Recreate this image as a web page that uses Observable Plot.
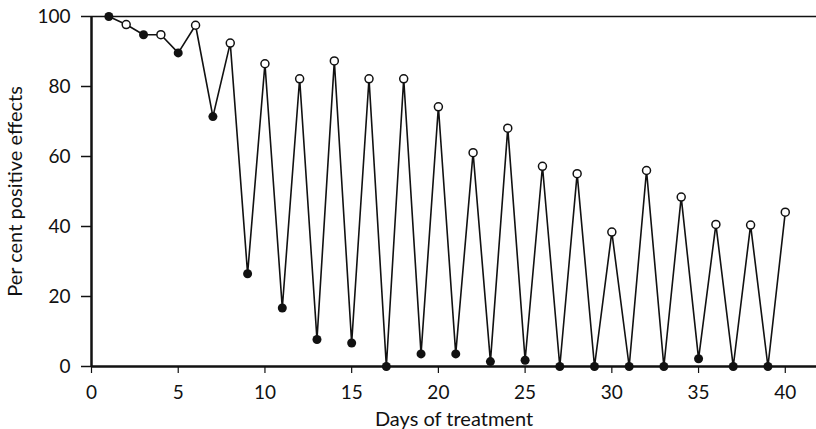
<!DOCTYPE html>
<html><head><meta charset="utf-8">
<script src="https://cdn.jsdelivr.net/npm/d3@7"></script>
<script src="https://cdn.jsdelivr.net/npm/@observablehq/plot@0.6"></script>
<style>body{margin:0;background:#fff} svg{display:block}</style>
</head><body><div id="chart"></div>
<script>
const days = [1,2,3,4,5,6,7,8,9,10,11,12,13,14,15,16,17,18,19,20,21,22,23,24,25,26,27,28,29,30,31,32,33,34,35,36,37,38,39,40];
const values = [100,97.7,94.8,94.8,89.6,97.5,71.4,92.4,26.5,86.5,16.7,82.2,7.7,87.3,6.7,82.2,0,82.2,3.6,74.2,3.6,61.1,1.4,68.1,1.8,57.2,0,55.1,0,38.4,0,56,0,48.4,2.2,40.6,0,40.4,0,44.1];
const markers = ["filled","open","filled","open","filled","open","filled","open","filled","open","filled","open","filled","open","filled","open","filled","open","filled","open","filled","open","filled","open","filled","open","filled","open","filled","open","filled","open","filled","open","filled","open","filled","open","filled","open"];
const xTicks = [0,5,10,15,20,25,30,35,40];
const yTicks = [0,20,40,60,80,100];

const data = days.map((d,i)=>({day:d, value:values[i], marker:markers[i]}));
const ink = "#111";
const chart = Plot.plot({
  width:816, height:429,
  marginLeft:91, marginRight:0, marginTop:16, marginBottom:63,
  style:{fontFamily:"Lato, 'Open Sans', sans-serif", fontSize:"19px", color:ink, background:"#fff", overflow:"visible"},
  x:{domain:[0,41.8]},
  y:{domain:[0,100]},
  marks:[
    Plot.ruleY([100],{stroke:ink, strokeWidth:1.5}),
    Plot.ruleY([0],{stroke:ink, strokeWidth:2.5}),
    Plot.ruleX([0],{stroke:ink, strokeWidth:2.5}),
    Plot.axisX({ticks:xTicks, tickSize:7, tickPadding:12, strokeWidth:1.2, fontSize:19, label:null}),
    Plot.axisX({ticks:[], label:"Days of treatment", labelAnchor:"center", labelOffset:59, labelArrow:"none", fontSize:20}),
    Plot.axisY({ticks:yTicks, tickSize:10, tickPadding:11, strokeWidth:1.5, fontSize:19, label:null}),
    Plot.axisY({ticks:[], label:"Per cent positive effects", labelAnchor:"center", labelOffset:84, labelArrow:"none", fontSize:20}),
    Plot.line(data,{x:"day", y:"value", stroke:ink, strokeWidth:1.6}),
    Plot.dot(data.filter(d=>d.marker==="open"),{x:"day", y:"value", r:4, fill:"white", stroke:ink, strokeWidth:1.5}),
    Plot.dot(data.filter(d=>d.marker==="filled"),{x:"day", y:"value", r:4.5, fill:ink, stroke:"none"})
  ]
});
document.getElementById("chart").appendChild(chart);
</script>
</body></html>
